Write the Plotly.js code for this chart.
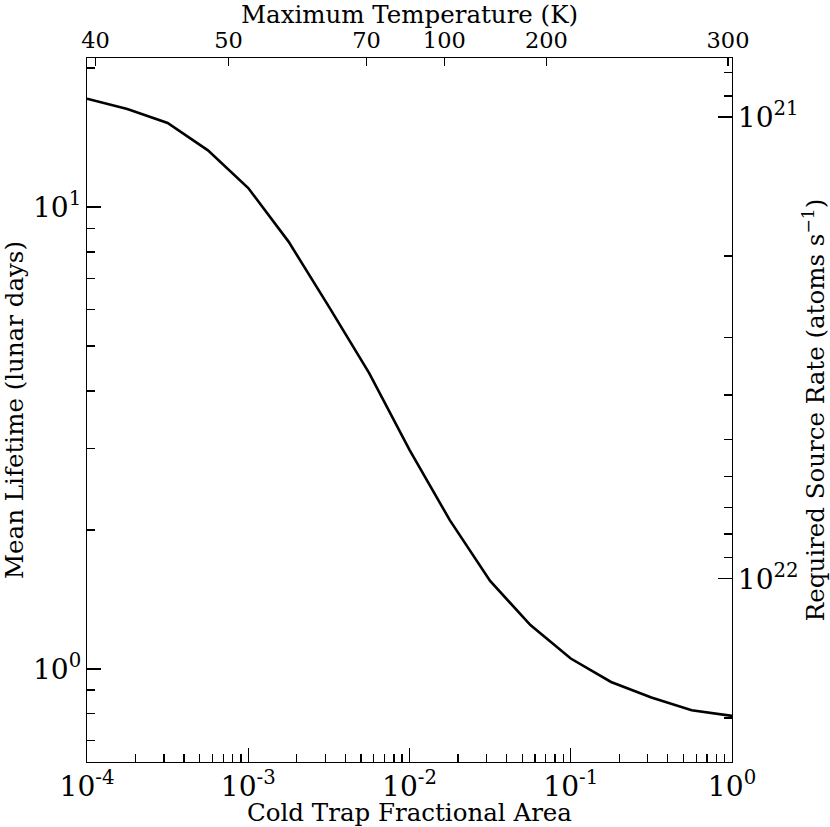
<!DOCTYPE html>
<html>
<head>
<meta charset="utf-8">
<script src="https://cdn.plot.ly/plotly-3.0.1.min.js"></script>
<style>
  html,body{margin:0;padding:0;background:#fff;}
  #chart{width:830px;height:827px;}
</style>
</head>
<body>
<div id="chart"></div>
<script>
// cold trap area vs mean lifetime (0.25-decade steps)
const trapArea=[1e-4,1.778e-4,3.162e-4,5.623e-4,1e-3,1.778e-3,3.162e-3,5.623e-3,1e-2,
  1.778e-2,3.162e-2,5.623e-2,1e-1,1.778e-1,3.162e-1,5.623e-1,1];
const lifetime=[17.17,16.31,15.21,13.27,11.00,8.42,6.09,4.37,2.98,2.10,1.551,1.244,1.053,
  0.937,0.867,0.814,0.791];
// top axis: maximum temperature marks placed at the matching area
const tempTickArea=[1.13e-4,7.55e-4,5.42e-3,1.644e-2,7.06e-2,0.9445];
const tempTickText=["40","50","70","100","200","300"];
// right axis: source rate = K / lifetime, so same scale flipped
const rateRange=[22.3966,20.8721];
const lifeRange=[-0.2016,1.3229];

// plotly prints 10^1 as "10" and 10^0 as "1"; the figure keeps the power form with a plain hyphen
const M="\u2212";
const decadeAlias={"1":"10<sup>0</sup>","10":"10<sup>1</sup>"};
[1,2,3,4].forEach(k=>{decadeAlias["10<sup>"+M+k+"</sup>"]="10<sup>-"+k+"</sup>";});

const FONT="DejaVu Serif, serif";
const TITLE={family:FONT,size:24.5,color:"#000"};
const axisBase={type:"log",showline:true,linecolor:"#000",linewidth:1.3,showgrid:false,zeroline:false,
  ticks:"inside",ticklen:14,tickwidth:1.3,tickcolor:"#000",exponentformat:"power",dtick:1,
  labelalias:decadeAlias,tickfont:{family:FONT,size:22.5,color:"#000"},
  minor:{ticks:"inside",ticklen:8,tickwidth:1.3,tickcolor:"#000",dtick:"D1",showgrid:false}};

const traces=[
  {x:trapArea,y:lifetime,mode:"lines",line:{color:"#000",width:2.6},hoverinfo:"x+y",showlegend:false}
];

const layout={
  width:830,height:827,
  margin:{l:87,r:98,t:58,b:65},
  paper_bgcolor:"#fff",plot_bgcolor:"#fff",
  font:{family:FONT,size:22.5,color:"#000"},
  xaxis:Object.assign({},axisBase,{range:[-4,0],
    title:{text:"Cold Trap Fractional Area",font:TITLE,standoff:11}}),
  xaxis2:Object.assign({},axisBase,{overlaying:"x",side:"top",range:[-4,0],
    tickmode:"array",tickvals:tempTickArea,ticktext:tempTickText,ticklen:8,minor:{ticks:""},
    title:{text:"Maximum Temperature (K)",font:TITLE,standoff:6}}),
  yaxis:Object.assign({},axisBase,{range:lifeRange,
    title:{text:"Mean Lifetime (lunar days)",font:TITLE,standoff:11}}),
  yaxis2:Object.assign({},axisBase,{overlaying:"y",side:"right",range:rateRange,
    title:{text:"Required Source Rate (atoms s<sup>−1</sup>)",font:TITLE,standoff:8}})
};
// dummy trace to activate the second x/y pair
traces.push({x:[trapArea[0]],y:[1e21],xaxis:"x2",yaxis:"y2",mode:"markers",
  marker:{opacity:0},hoverinfo:"skip",showlegend:false});

Plotly.newPlot("chart",traces,layout,{displayModeBar:false,staticPlot:true});
</script>
</body>
</html>
